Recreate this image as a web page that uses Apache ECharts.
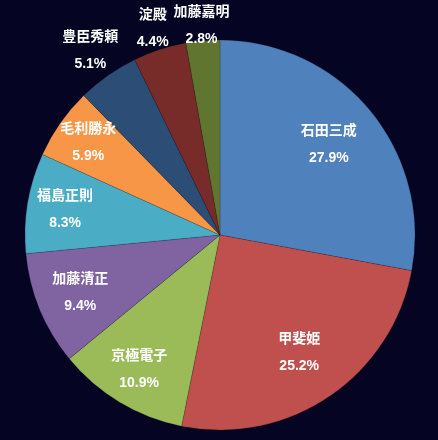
<!DOCTYPE html>
<html><head><meta charset="utf-8">
<style>html,body{margin:0;padding:0;background:#050523;}#c{width:438px;height:440px;}</style>
<script src="https://cdn.jsdelivr.net/npm/echarts@6/dist/echarts.min.js"></script>
</head><body><div id="c"></div>
<script>
const categories = ['石田三成','甲斐姫','京極電子','加藤清正','福島正則','毛利勝永','豊臣秀頼','淀殿','加藤嘉明'];
const values = [27.9, 25.2, 10.9, 9.4, 8.3, 5.9, 5.1, 4.4, 2.8];
const colors = ['#4F81BD','#C0504D','#9BBB59','#8064A2','#4BACC6','#F79646','#2C4D75','#772C2A','#5F7530'];
// label groups: [item indices, label distance as fraction of radius]
const labelGroups = [[[0,1],0.71],[[2,4],0.79],[[3],0.76],[[5],0.81],[[7],1.1],[[8],1.06],[[6],1.14]];

const R = 195, CX = 220, CY = 235;
const chart = echarts.init(document.getElementById('c'));
const series = [{
  type:'pie', center:[CX,CY], radius:[0,R], startAngle:90, clockwise:true,
  silent:true, label:{show:false}, labelLine:{show:false},
  itemStyle:{borderColor:'rgba(0,0,0,0.25)', borderWidth:0.6},
  data: categories.map((c,i)=>({name:c, value:values[i], itemStyle:{color:colors[i]}}))
}];
labelGroups.forEach(([idx, f])=>{
  const d = f*R, w = 0.3*R;
  series.push({
    type:'pie', center:[CX,CY], radius:[d-w, d+w], startAngle:90, clockwise:true,
    silent:true, avoidLabelOverlap:false, minShowLabelAngle:0, z:5,
    itemStyle:{color:'rgba(0,0,0,0)'}, labelLine:{show:false},
    label:{show:true, position:'inside', color:'#fff', fontWeight:'bold', fontSize:14,
      fontFamily:'"Liberation Sans", "Noto Sans CJK JP", sans-serif', lineHeight:27,
      formatter:p=>p.name+'\n'+p.value.toFixed(1)+'%'},
    data: categories.map((c,i)=>({name:c, value:values[i], label:{show:idx.includes(i)}}))
  });
});
chart.setOption({backgroundColor:'#050523', animation:false, series});
</script></body></html>
